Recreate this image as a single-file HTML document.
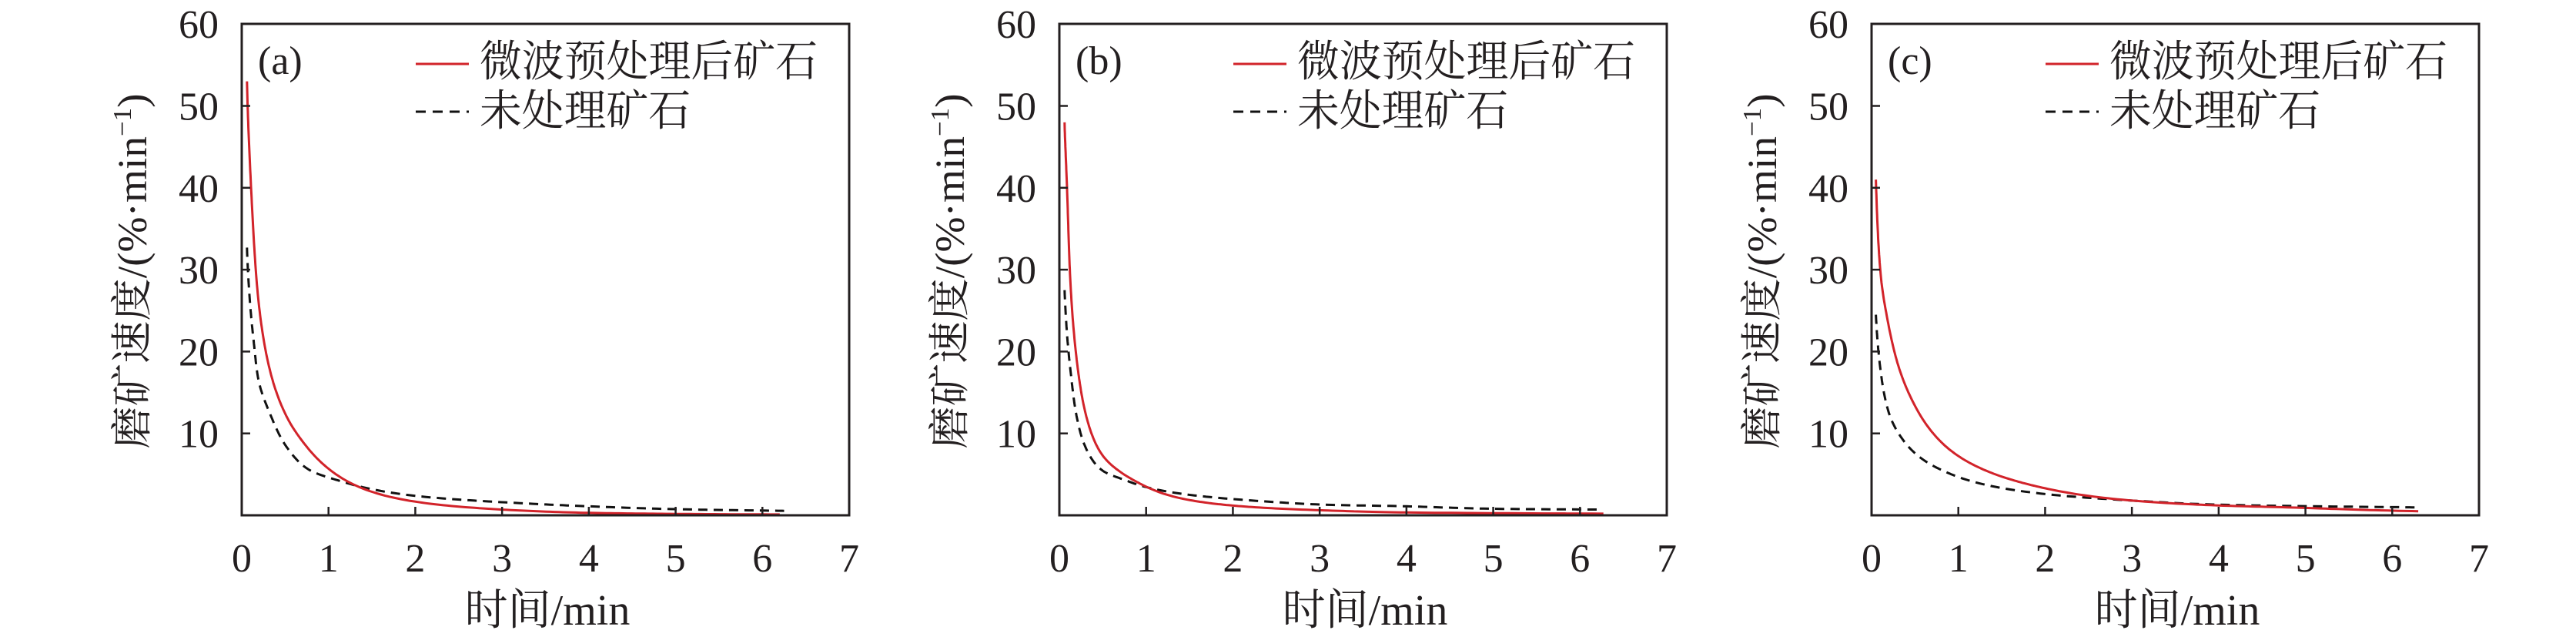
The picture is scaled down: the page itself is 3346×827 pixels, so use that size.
<!DOCTYPE html>
<html><head><meta charset="utf-8">
<style>
html,body{margin:0;padding:0;background:#fff;}
svg{display:block;}
text{font-family:"Liberation Serif","Noto Serif CJK SC","Noto Sans CJK SC",serif;fill:#231f20;}
</style></head>
<body>
<svg id="s" xmlns="http://www.w3.org/2000/svg" width="3346" height="827" viewBox="0 0 3346 827"></svg>
<script>
const NS="http://www.w3.org/2000/svg";
const svg=document.getElementById('s');
const W=789, T=31, B=669, K=10.63, SX=W/7;
const panels=[
 {L:314,lab:"(a)",
  red:[[0.06,53],[0.11,39.5],[0.19,26.5],[0.33,17.5],[0.52,12],[0.77,8.1],[1.16,4.5],[1.98,1.7],[3,0.7],[4,0.3],[5,0.17],[6.2,0.1]],
  blk:[[0.06,32.7],[0.13,22],[0.19,16.7],[0.33,12.3],[0.52,8.3],[0.77,5.6],[1.16,4.1],[1.98,2.4],[3,1.6],[4,1.1],[5,0.75],[6.25,0.55]]},
 {L:1376,lab:"(b)",
  red:[[0.06,48],[0.09,39.5],[0.125,29],[0.2,19],[0.29,13],[0.48,7.6],[0.73,5.1],[0.98,3.6],[1.48,1.9],[2.1,1.1],[3.05,0.6],[4,0.35],[6.27,0.2]],
  blk:[[0.06,27.5],[0.125,18],[0.19,12.6],[0.29,8.6],[0.48,5.6],[0.73,4.4],[0.98,3.5],[2.1,1.9],[3.05,1.3],[4,1.1],[5,0.8],[6.25,0.7]]},
 {L:2431,lab:"(c)",
  red:[[0.05,41],[0.1,30],[0.2,23],[0.4,15.6],[0.63,11.1],[1.02,7.1],[1.48,4.8],[2,3.3],[3,1.8],[4,1.2],[5,0.9],[6.3,0.5]],
  blk:[[0.05,24.5],[0.1,18],[0.2,12.5],[0.37,9.1],[0.7,6.1],[1.02,4.6],[2,2.6],[3,1.8],[4,1.3],[6,1.0],[6.3,0.95]]}
];
function el(tag,attrs,parent,txt){const e=document.createElementNS(NS,tag);for(const k in attrs)e.setAttribute(k,attrs[k]);if(txt!==undefined)e.textContent=txt;(parent||svg).appendChild(e);return e;}
function path(pts){
 // Catmull-Rom in log-log space, densely sampled
 const q=pts.map(([t,v])=>[Math.log(t),Math.log(v)]);
 const out=[];
 for(let i=0;i<q.length-1;i++){
  const p0=q[i-1]||[2*q[i][0]-q[i+1][0],2*q[i][1]-q[i+1][1]],p1=q[i],p2=q[i+1],p3=q[i+2]||[2*q[i+1][0]-q[i][0],2*q[i+1][1]-q[i][1]];
  for(let s=0;s<20;s++){
   const u=s/20,u2=u*u,u3=u2*u;
   const f=(a,b,c,d)=>0.5*((2*b)+(-a+c)*u+(2*a-5*b+4*c-d)*u2+(-a+3*b-3*c+d)*u3);
   out.push([f(p0[0],p1[0],p2[0],p3[0]),f(p0[1],p1[1],p2[1],p3[1])]);
  }
 }
 out.push(q[q.length-1]);
 return "M"+out.map(([lt,lv])=>(Math.exp(lt)*SX).toFixed(1)+","+(B-K*Math.exp(lv)).toFixed(1)).join(" L");
}
for(const P of panels){
 const g=el('g',{transform:`translate(${P.L},0)`});
 el('path',{d:path(P.blk),fill:'none',stroke:'#111','stroke-width':3,'stroke-dasharray':'12,8'},g);
 el('path',{d:path(P.red),fill:'none',stroke:'#d2232a','stroke-width':3},g);
 el('rect',{x:0,y:T,width:W,height:B-T,fill:'none',stroke:'#231f20','stroke-width':3},g);
 for(let i=1;i<=6;i++){const x=i*SX;el('line',{x1:x,y1:B,x2:x,y2:B-11,stroke:'#231f20','stroke-width':2.5},g);}
 for(let v=10;v<=50;v+=10){const y=B-K*v;el('line',{x1:0,y1:y,x2:11,y2:y,stroke:'#231f20','stroke-width':2.5},g);}
 for(let v=10;v<=60;v+=10){el('text',{x:-30,y:B-K*v+18,'font-size':52,'text-anchor':'end'},g,String(v));}
 for(let i=0;i<=7;i++){el('text',{x:i*SX,y:742,'font-size':52,'text-anchor':'middle'},g,String(i));}
 el('text',{x:397,y:811,'font-size':56,'text-anchor':'middle'},g,"时间/min");
 const yl=el('text',{transform:'translate(-124,352) rotate(-90)','font-size':54,'text-anchor':'middle',textLength:461,lengthAdjust:'spacingAndGlyphs'},g);
 yl.innerHTML='磨矿速度/(%·min<tspan dy="-20" font-size="34">−1</tspan><tspan dy="20">)</tspan>';
 el('text',{x:21,y:96,'font-size':52},g,P.lab);
 el('line',{x1:226,y1:83,x2:295,y2:83,stroke:'#d2232a','stroke-width':3},g);
 el('text',{x:309,y:99,'font-size':56,textLength:439,lengthAdjust:'spacingAndGlyphs'},g,"微波预处理后矿石");
 el('line',{x1:226,y1:145,x2:295,y2:145,stroke:'#111','stroke-width':3,'stroke-dasharray':'13,9'},g);
 el('text',{x:309,y:163,'font-size':56,textLength:274,lengthAdjust:'spacingAndGlyphs'},g,"未处理矿石");
}
</script>
</body></html>
